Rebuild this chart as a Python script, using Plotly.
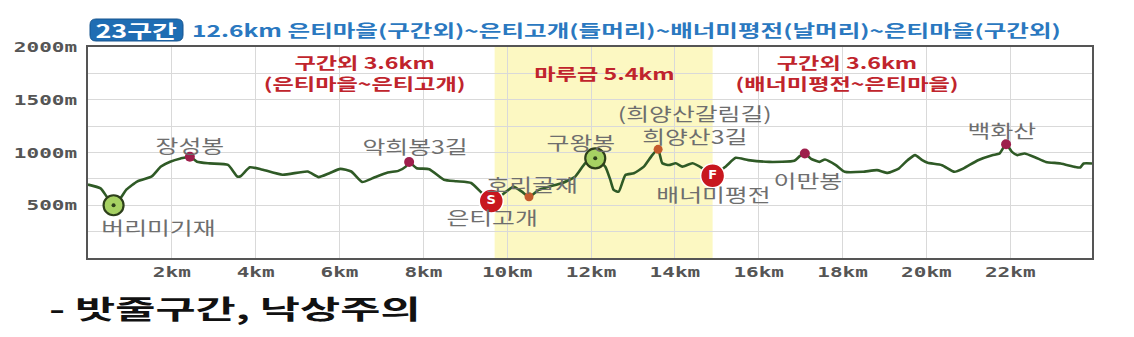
import json
import plotly.graph_objects as go

# ---- data ----
dist_km = [0.0, 0.3, 0.45, 0.61, 0.78, 0.92, 1.18, 1.52, 1.74, 1.96, 2.21, 2.43, 2.6, 2.9, 3.34,
           3.56, 3.64, 3.86, 4.12, 4.64, 5.24, 5.5, 5.76, 6.02, 6.28, 6.54, 6.8, 7.15, 7.4, 7.58,
           7.66, 7.84, 8.14, 8.49, 8.79, 9.14, 9.39, 9.62, 9.87, 10.15, 10.35, 10.52, 10.75, 10.99,
           11.3, 11.62, 11.86, 12.1, 12.34, 12.46, 12.54, 12.66, 12.82, 13.02, 13.26, 13.46, 13.6,
           13.7, 13.86, 14.02, 14.18, 14.42, 14.66, 14.9, 15.22, 15.45, 15.75, 16.25, 16.85, 16.98,
           17.1, 17.24, 17.45, 17.58, 17.84, 18.05, 18.48, 18.82, 19.08, 19.34, 19.55, 19.73, 19.9,
           20.03, 20.37, 20.67, 20.88, 21.23, 21.57, 21.74, 21.9, 22.04, 22.17, 22.34, 22.6, 22.85,
           23.2, 23.54, 23.67, 23.75, 23.95]
elev_m = [696, 660, 580, 500, 570, 650, 727, 773, 867, 913, 944, 960, 913, 897, 882,
          773, 775, 860, 842, 789, 820, 767, 804, 845, 820, 720, 758, 810, 826, 866,
          910, 851, 842, 742, 727, 711, 618, 540, 597, 676, 629, 581, 645, 676,
          708, 771, 898, 945, 866, 740, 645, 629, 787, 803, 866, 976, 1030,
          898, 882, 898, 866, 898, 850, 780, 870, 950, 928, 911, 921, 965,
          990, 943, 911, 934, 880, 817, 817, 833, 807, 848, 927, 975, 927,
          902, 880, 817, 848, 927, 975, 990, 1079, 1006, 975, 990, 953, 911,
          896, 864, 858, 896, 896]

green_names = ["버리미기재", "구왕봉"]
green_km = [0.61, 12.1]
green_elev = [500, 945]

peak_names = ["장성봉", "악희봉3길", "이만봉", "백화산"]
peak_km = [2.43, 7.66, 17.1, 21.9]
peak_elev = [960, 910, 990, 1079]

spot_names = ["호리골재", "희양산3길"]
spot_km = [10.52, 13.6]
spot_elev = [581, 1030]

sf_text = ["S", "F"]
sf_km = [9.62, 14.9]
sf_elev = [540, 780]

labels = ["버리미기재", "장성봉", "악희봉3길", "은티고개", "호리골재", "구왕봉",
          "(희양산갈림길)<br>희양산3길", "배너미평전", "이만봉", "백화산"]
label_km = [1.68, 2.43, 7.81, 9.63, 10.6, 11.76, 14.48, 14.93, 17.17, 21.81]
label_elev = [292, 1068, 1058, 392, 700, 1103, 1262, 608, 738, 1212]

section_titles = ["구간외 3.6km", "마루금 5.4km", "구간외 3.6km"]
section_subs = ["(은티마을~은티고개)", "", "(배너미평전~은티마을)"]
section_km = [6.6, 12.33, 18.1]
section_elev = [1754, 1754, 1754]

ridge_start_km = 9.7
ridge_end_km = 14.9

x_tick_vals = [2, 4, 6, 8, 10, 12, 14, 16, 18, 20, 22, 24]
x_tick_text = ["2km", "4km", "6km", "8km", "10km", "12km", "14km", "16km", "18km", "20km", "22km", "24km"]
y_tick_vals = [500, 1000, 1500, 2000]
y_tick_text = ["500m", "1000m", "1500m", "2000m"]

title_badge = "23구간"
title_text = "12.6km 은티마을(구간외)~은티고개(들머리)~배너미평전(날머리)~은티마을(구간외)"
note_text = "- 밧줄구간, 낙상주의"

KR = "Noto Sans CJK KR"
MONO = "DejaVu Sans Mono"

fig = go.Figure()

fig.add_trace(go.Scatter(x=dist_km, y=elev_m, mode="lines",
                         line=dict(color="#2f5a26", width=2.6, shape="spline", smoothing=0.5),
                         hoverinfo="skip", showlegend=False))

fig.add_trace(go.Scatter(x=peak_km, y=peak_elev, mode="markers",
                         marker=dict(size=10, color="#9e1f4c"), showlegend=False))
fig.add_trace(go.Scatter(x=spot_km, y=spot_elev, mode="markers",
                         marker=dict(size=9, color="#c45a2c"), showlegend=False))
fig.add_trace(go.Scatter(x=green_km, y=green_elev, mode="markers",
                         marker=dict(size=20, color="#a6d163", line=dict(color="#2d3f1b", width=2.2)),
                         showlegend=False))
fig.add_trace(go.Scatter(x=green_km, y=green_elev, mode="markers",
                         marker=dict(size=4, color="#2d3f1b"), showlegend=False))
fig.add_trace(go.Scatter(x=sf_km, y=sf_elev, mode="markers+text", text=sf_text,
                         textposition="middle center",
                         textfont=dict(family="DejaVu Sans", size=13, color="white", weight="bold"),
                         marker=dict(size=24, color="#c8171f", line=dict(color="white", width=1.5)),
                         showlegend=False))

# ridge section shading
fig.add_shape(type="rect", xref="x", yref="y", x0=ridge_start_km, x1=ridge_end_km, y0=0, y1=2000,
              fillcolor="#fcf8c2", line=dict(width=0), layer="below")

annotations = []
ann_scale = []
for t, xk, ye in zip(labels, label_km, label_elev):
    annotations.append(dict(x=xk, y=ye, xref="x", yref="y", text=t, showarrow=False,
                            xanchor="center", yanchor="middle",
                            font=dict(family=KR, size=18, color="#6e6e6e")))
    ann_scale.append(1.38)
for t1, t2, xk, ye in zip(section_titles, section_subs, section_km, section_elev):
    txt = t1 + ("<br>" + t2 if t2 else "")
    annotations.append(dict(x=xk, y=ye, xref="x", yref="y", text=txt, showarrow=False,
                            xanchor="center", yanchor="middle",
                            font=dict(family=KR, size=16, color="#c0242c", weight="bold")))
    ann_scale.append(1.45)

# title badge
W, H = 1134, 337
L, R, T, B = 88, 42, 47, 79
pw, ph = W - L - R, H - T - B
def px(xp):
    return (xp - L) / pw
def py(yp):
    return (H - B - yp) / ph

bx0, bx1, by0, by1 = px(90), px(183), py(41), py(19)
rx, ry = 6 / pw, 6 / ph
path = (f"M {bx0+rx},{by0} L {bx1-rx},{by0} Q {bx1},{by0} {bx1},{by0+ry} "
        f"L {bx1},{by1-ry} Q {bx1},{by1} {bx1-rx},{by1} L {bx0+rx},{by1} "
        f"Q {bx0},{by1} {bx0},{by1-ry} L {bx0},{by0+ry} Q {bx0},{by0} {bx0+rx},{by0} Z")
fig.add_shape(type="path", xref="paper", yref="paper", path=path,
              fillcolor="#1f6db3", line=dict(color="#16558f", width=1))

annotations.append(dict(x=px(136.5), y=py(30), xref="paper", yref="paper", text=title_badge,
                        showarrow=False, xanchor="center", yanchor="middle",
                        font=dict(family=KR, size=18, color="white", weight="bold")))
ann_scale.append(1.5)
annotations.append(dict(x=px(190), y=py(30), xref="paper", yref="paper", text=title_text,
                        showarrow=False, xanchor="left", yanchor="middle", align="left",
                        font=dict(family=KR, size=16.5, color="#2a78c0", weight="bold")))
ann_scale.append(1.49)
annotations.append(dict(x=px(47), y=py(307), xref="paper", yref="paper", text=note_text,
                        showarrow=False, xanchor="left", yanchor="middle", align="left",
                        font=dict(family=KR, size=26, color="#111111", weight="bold")))
ann_scale.append(1.68)

fig.update_layout(
    width=W, height=H,
    margin=dict(l=L, r=R, t=T, b=B),
    paper_bgcolor="white", plot_bgcolor="white",
    showlegend=False,
    annotations=annotations,
    xaxis=dict(range=[0, 23.95], tickvals=x_tick_vals, ticktext=x_tick_text,
               showgrid=True, gridcolor="#d9d9d9", gridwidth=1,
               showline=True, mirror=True, linecolor="#555555", linewidth=2,
               ticks="", zeroline=False,
               tickfont=dict(family=MONO, size=14.5, color="#555555", weight="bold")),
    yaxis=dict(range=[0, 2000], tickvals=y_tick_vals, ticktext=y_tick_text,
               showgrid=True, gridcolor="#d9d9d9", gridwidth=1,
               minor=dict(dtick=250, tick0=0, showgrid=True, gridcolor="#d9d9d9", gridwidth=1),
               showline=True, mirror=True, linecolor="#555555", linewidth=2,
               ticks="", zeroline=False, ticklabelstandoff=6,
               tickfont=dict(family=MONO, size=14.5, color="#555555", weight="bold")),
)

# horizontal stretch of the text glyphs (the reference artwork is stretched wide)
post_js = """
var gd = document.getElementById('{plot_id}');
var annScale = %s;
var tickScale = 1.45;
function stretchText(el, s) {
  var x = parseFloat(el.getAttribute('x'));
  if (isNaN(x)) { x = 0; }
  var t = el.getAttribute('transform') || '';
  el.setAttribute('transform', t + ' translate(' + x + ',0) scale(' + s + ',1) translate(' + (-x) + ',0)');
}
gd.querySelectorAll('g.annotation').forEach(function(g) {
  var i = parseInt(g.getAttribute('data-index'));
  var s = annScale[i];
  if (!s || s === 1) { return; }
  g.querySelectorAll('text.annotation-text').forEach(function(el) { stretchText(el, s); });
});
gd.querySelectorAll('g.xtick text, g.ytick text').forEach(function(el) { stretchText(el, tickScale); });
""" % json.dumps(ann_scale)

fig.write_html("out.html", post_script=post_js)
